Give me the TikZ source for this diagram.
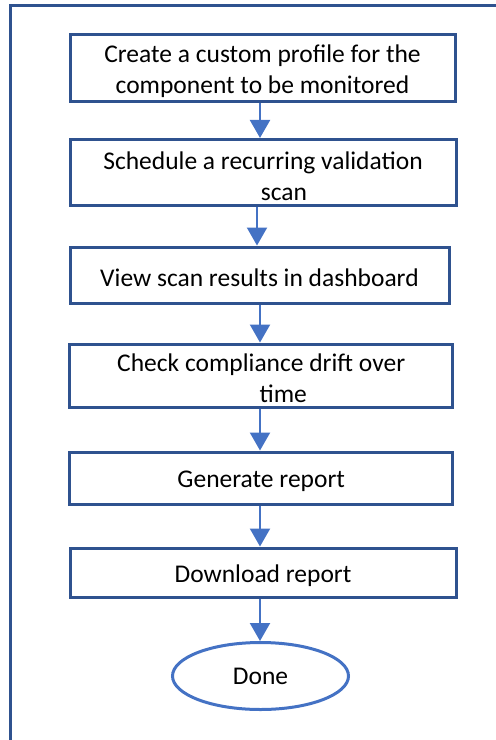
\documentclass[tikz,border=0pt]{standalone}
\usepackage{fontspec}
\setmainfont{Carlito}
\usetikzlibrary{arrows.meta,shapes.geometric}
\definecolor{boxblue}{HTML}{2F528F}
\definecolor{flowblue}{HTML}{4472C4}
\tikzset{
  stepbox/.style={draw=boxblue, line width=3pt, fill=white, inner sep=0pt,
    align=center, font=\fontsize{25.5}{31}\selectfont},
  oneline/.style={text height=24pt},
  twoline/.style={text height=55pt},
  endoval/.style={ellipse, draw=flowblue, line width=3pt, inner sep=0pt,
    font=\fontsize{25.5}{31}\selectfont},
  flow/.style={draw=flowblue, line width=2.2pt,
    -{Triangle[width=20pt,length=18pt]}},
  frame/.style={draw=boxblue, line width=3pt}
}
\begin{document}
\begin{tikzpicture}[x=1pt,y=-1pt]
  \useasboundingbox (0,0) rectangle (496,740);
  \clip (0,0) rectangle (496,740);
  % outer frame, running past the right and lower edges
  \draw[frame] (10,760) -- (10,5.5) -- (520,5.5);

  % process steps
  \node[stepbox, twoline, minimum width=385pt, minimum height=67.5pt] (b1) at (262.5,68)
    {Create a custom profile for the\\component to be monitored};
  \node[stepbox, twoline, minimum width=386pt, minimum height=66.5pt] (b2) at (263,172.7)
    {Schedule a recurring validation\\\hspace*{42pt}scan};
  \node[stepbox, oneline, minimum width=379pt, minimum height=56pt] (b3) at (259.5,275)
    {View scan results in dashboard};
  \node[stepbox, twoline, minimum width=383.5pt, minimum height=63pt] (b4) at (261.2,375.5)
    {Check compliance drift over\\\hspace*{44pt}time};
  \node[stepbox, oneline, minimum width=383.5pt, minimum height=52pt] (b5) at (261.2,478)
    {Generate report};
  \node[stepbox, oneline, minimum width=386pt, minimum height=49pt] (b6) at (263,572.5)
    {Download report};
  \node[endoval, minimum width=176pt, minimum height=67pt] (done) at (260.5,676)
    {Done};

  % vertical guide lines for the connectors
  \coordinate (axisA) at (260,0);
  \coordinate (axisB) at (257,0);

  \draw[flow] (b1.south -| axisA) -- (b2.north -| axisA);
  \draw[flow] (b2.south -| axisB) -- (b3.north -| axisB);
  \draw[flow] (b3.south -| axisA) -- (b4.north -| axisA);
  \draw[flow] (b4.south -| axisA) -- (b5.north -| axisA);
  \draw[flow] (b5.south -| axisA) -- (b6.north -| axisA);
  \draw[flow] (b6.south -| axisA) -- (done.north -| axisA);
\end{tikzpicture}
\end{document}
